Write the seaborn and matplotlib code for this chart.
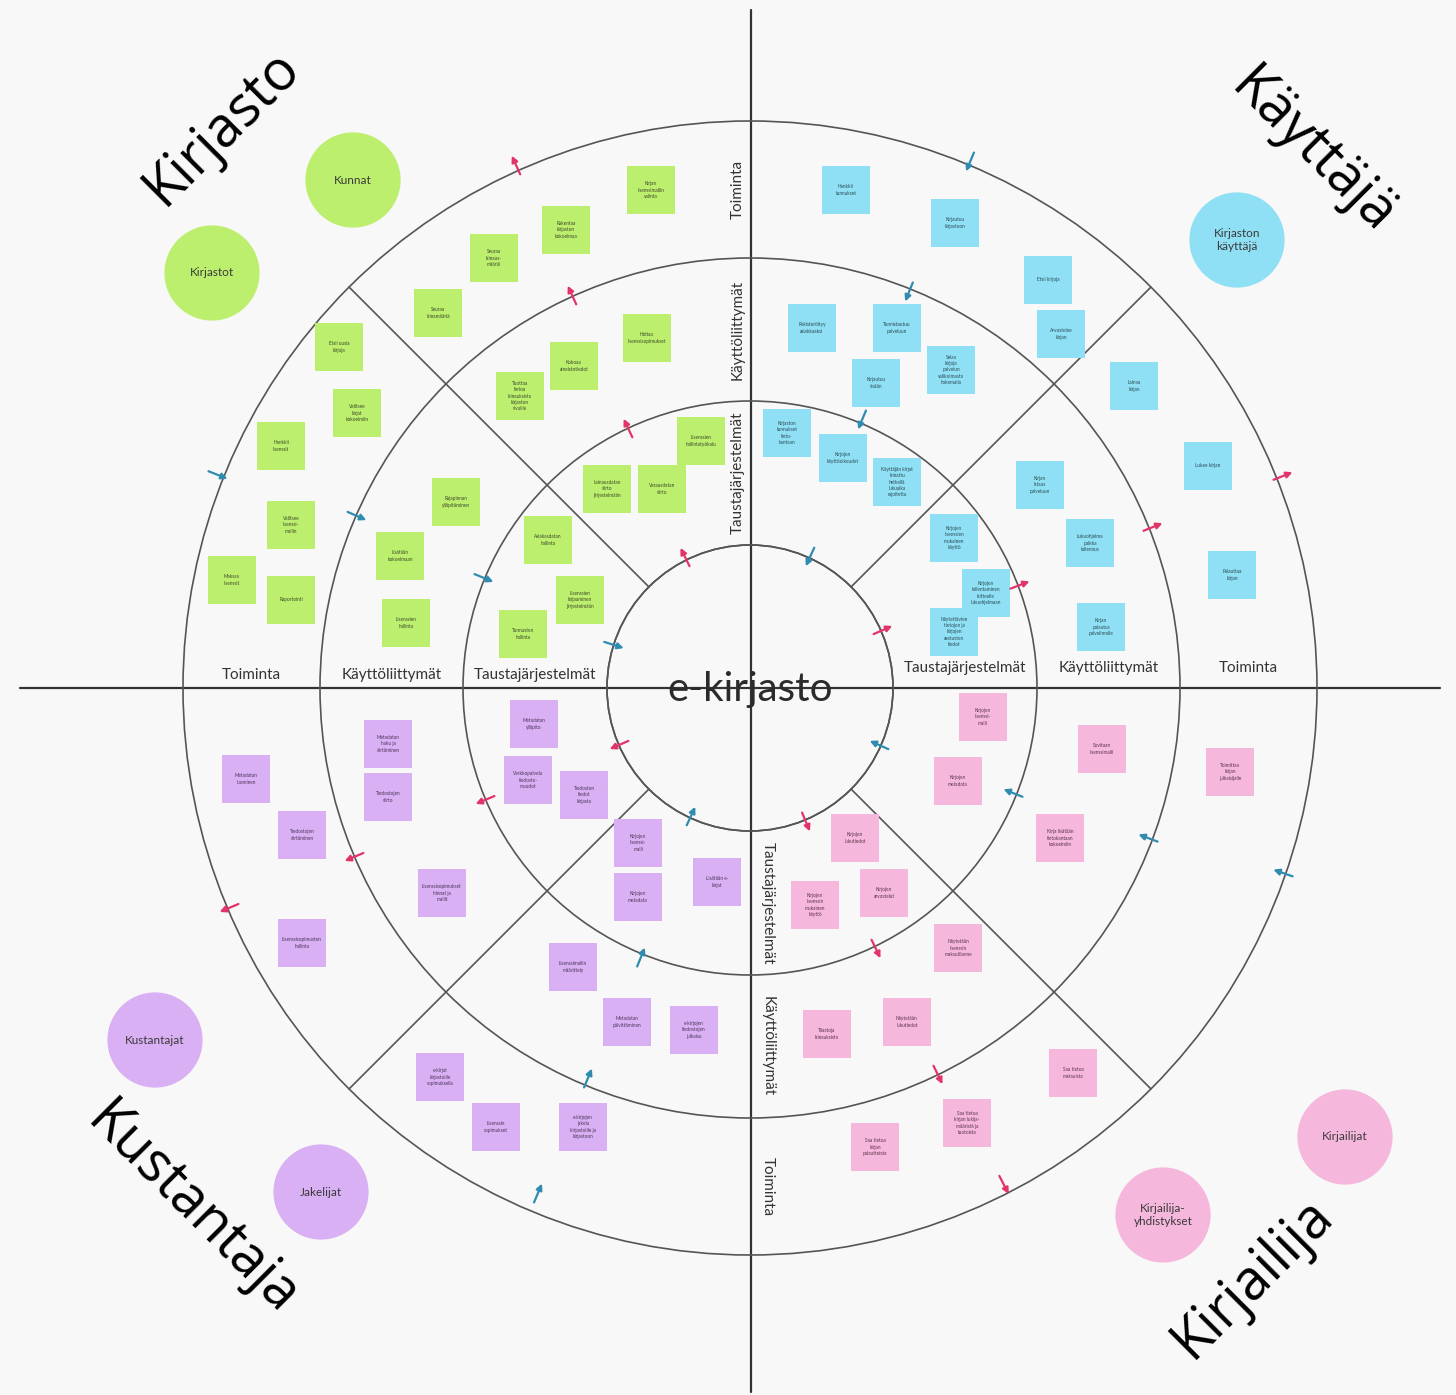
import matplotlib.pyplot as plt
import pandas as pd
import seaborn as sns
import numpy as np
from matplotlib.patches import Circle

sns.set_style('white')
plt.rcParams['font.family'] = ['Lato', 'DejaVu Sans']

# Layout of the wheel (pixel units of the picture)
center_x, center_y = 750, 688
ring_radii = [143, 287, 430, 567]
ring_names = ['Taustajärjestelmät', 'Käyttöliittymät', 'Toiminta']

# Quadrant titles
quad_titles = ['Kirjasto', 'Käyttäjä', 'Kustantaja', 'Kirjailija']
quad_title_x = [222, 1312, 192, 1253]
quad_title_y = [128, 152, 1210, 1278]
quad_title_rot = [45, -45, -45, 45]

# Actor bubbles
actor_labels = ['Kunnat', 'Kirjastot', 'Kirjaston\nkäyttäjä', 'Kustantajat',
                'Jakelijat', 'Kirjailijat', 'Kirjailija-\nyhdistykset']
actor_group = ['Kirjasto', 'Kirjasto', 'Käyttäjä', 'Kustantaja',
               'Kustantaja', 'Kirjailija', 'Kirjailija']
actor_x = [353, 212, 1237, 155, 321, 1345, 1163]
actor_y = [180, 273, 240, 1040, 1192, 1137, 1215]

# Sticky notes, Kirjasto (green)
green_labels = ['Kirjan\nlisenssimallin\nvalinta', 'Rakentaa\nkirjaston\nkokoelmaa',
                'Seuraa\nlainaus-\nmääriä', 'Seuraa\nlainamääriä',
                'Hoitaa\nlisenssisopimukset', 'Kokoaa\naineistotiedot',
                'Tuottaa\ntietoa\nlainauksista\nkirjaston\nsivuille', 'Etsii uusia\nkirjoja',
                'Valitsee\nkirjat\nkokoelmiin', 'Hankkii\nlisenssit',
                'Valitsee\nlisenssi-\nmallin', 'Maksaa\nlisenssit', 'Raportointi',
                'Rajapinnan\nylläpitäminen', 'Lisätään\nkokoelmaan', 'Lisenssien\nhallinta',
                'Lisenssien\nhallintatyökalu', 'Lainausdatan\nsiirto\njärjestelmään',
                'Varausdatan\nsiirto', 'Asiakasdatan\nhallinta',
                'Lisenssien\nkirjaaminen\njärjestelmään', 'Tunnusten\nhallinta']
green_x = [651, 566, 494, 438, 647, 574, 520, 339, 357, 281, 291, 232, 291,
           456, 400, 406, 701, 607, 662, 548, 580, 523]
green_y = [190, 230, 258, 313, 338, 366, 396, 347, 413, 446, 525, 580, 600,
           502, 556, 623, 441, 489, 489, 540, 600, 634]

# Sticky notes, Käyttäjä (blue)
blue_labels = ['Hankkii\ntunnukset', 'Kirjautuu\nkirjastoon', 'Etsii kirjoja',
               'Arvostelee\nkirjan', 'Rekisteröityy\nasiakkaaksi', 'Tunnistautuu\npalveluun',
               'Selaa\nkirjoja\npalvelun\nvalikoimasta\nhakemalla', 'Kirjautuu\nsisään',
               'Lainaa\nkirjan', 'Kirjaston\ntunnukset\ntieto-\nkantaan',
               'Kirjojen\nkäyttöoikeudet', 'Käyttäjän kirjat\nlainattu\nhetkellä\nlukuaika\nrajoitettu',
               'Kirjan\nlataus\npalveluun', 'Lukee kirjan',
               'Kirjojen\nlisenssien\nmukainen\nkäyttö', 'Lukuohjelma\npaikka\ntallennus',
               'Kirjojen\ntallentaminen\nlaitteelle\nlukuohjelmaan',
               'Näytettävien\ntietojen ja\nkirjojen\nasetusten\ntiedot',
               'Kirjan\npalautus\npalvelimelle', 'Palauttaa\nkirjan']
blue_x = [846, 955, 1048, 1061, 812, 897, 951, 876, 1134, 787, 843, 897,
          1040, 1208, 954, 1090, 986, 954, 1101, 1232]
blue_y = [190, 223, 280, 334, 328, 328, 370, 383, 386, 433, 458, 482,
          485, 466, 538, 543, 593, 632, 627, 575]

# Sticky notes, Kustantaja (purple)
purple_labels = ['Metadatan\nylläpito', 'Metadatan\nhaku ja\nsiirtäminen',
                 'Verkkopalvelu\ntiedosto-\nmuodot', 'Tiedoston\ntiedot\nkirjasta',
                 'Tiedostojen\nsiirto', 'Metadatan\nluominen', 'Tiedostojen\nsiirtäminen',
                 'Lisenssisopimukset\nhinnat ja\nmallit', 'Lisenssisopimusten\nhallinta',
                 'Kirjojen\nlisenssi-\nmalli', 'Kirjojen\nmetadata', 'Lisätään e-\nkirjat',
                 'Lisenssimallin\nmäärittely', 'Metadatan\npäivittäminen',
                 'e-kirjojen\ntiedostojen\njulkaisu', 'e-kirjat\nkirjastoille\nsopimuksella',
                 'Lisenssin\nsopimukset', 'e-kirjojen\njakelu\nkirjastoille ja\nkirjastoon']
purple_x = [534, 388, 528, 584, 388, 246, 302, 442, 302, 638, 638, 717,
            573, 627, 694, 440, 496, 583]
purple_y = [724, 744, 780, 795, 797, 779, 835, 893, 943, 843, 897, 882,
            967, 1022, 1030, 1077, 1127, 1127]

# Sticky notes, Kirjailija (pink)
pink_labels = ['Kirjojen\nlisenssi-\nmalli', 'Sovitaan\nlisenssimalli', 'Kirjojen\nmetadata',
               'Toimittaa\nkirjan\njulkaisijalle', 'Kirja lisätään\ntietokantaan\nkokoelmiin',
               'Kirjojen\nlukutiedot', 'Kirjojen\narvostelut',
               'Kirjojen\nlisenssin\nmukainen\nkäyttö', 'Näytetään\nlisenssin\nmaksutilanne',
               'Tilastoja\nlainauksista', 'Näytetään\nlukutiedot', 'Saa tietoa\nmaksuista',
               'Saa tietoa\nkirjan lukija-\nmääristä ja\ntuotoista',
               'Saa tietoa\nkirjan\npalautteista']
pink_x = [983, 1102, 958, 1230, 1060, 855, 884, 815, 958, 827, 907, 1073, 967, 875]
pink_y = [717, 749, 781, 772, 838, 838, 893, 905, 948, 1034, 1022, 1073, 1123, 1147]

# Flow arrows on the rings: red points outward, blue points inward
red_arrow_x = [516, 572, 628, 685, 1283, 1153, 1020, 883, 229, 354, 485, 619, 1004, 938, 876, 806]
red_arrow_y = [165, 295, 428, 557, 476, 527, 585, 630, 908, 857, 800, 745, 1185, 1075, 949, 822]
blue_arrow_x = [218, 357, 484, 614, 970, 909, 862, 810, 538, 588, 641, 691, 1283, 1148, 1013, 879]
blue_arrow_y = [475, 516, 578, 645, 162, 292, 420, 557, 1193, 1078, 957, 816, 873, 838, 793, 745]

palette = {'Kirjasto': '#bdef6e', 'Käyttäjä': '#8fe0f4',
           'Kustantaja': '#d9b0f4', 'Kirjailija': '#f6b7dc'}
text_col = {'Kirjasto': '#3d4a2a', 'Käyttäjä': '#2c4a55',
            'Kustantaja': '#4a3558', 'Kirjailija': '#5a3548'}

notes = pd.concat([
    pd.DataFrame({'label': green_labels, 'x': green_x, 'y': green_y, 'group': 'Kirjasto'}),
    pd.DataFrame({'label': blue_labels, 'x': blue_x, 'y': blue_y, 'group': 'Käyttäjä'}),
    pd.DataFrame({'label': purple_labels, 'x': purple_x, 'y': purple_y, 'group': 'Kustantaja'}),
    pd.DataFrame({'label': pink_labels, 'x': pink_x, 'y': pink_y, 'group': 'Kirjailija'}),
], ignore_index=True)
actors = pd.DataFrame({'label': actor_labels, 'x': actor_x, 'y': actor_y, 'group': actor_group})

fig = plt.figure(figsize=(14.56, 13.95), dpi=100)
fig.patch.set_facecolor('#f8f8f8')
ax = fig.add_axes([0, 0, 1, 1])
ax.set_facecolor('#f8f8f8')
ax.set_xlim(0, 1456)
ax.set_ylim(1395, 0)
ax.set_aspect('equal')
ax.axis('off')

# axes cross
ax.plot([20, 1440], [center_y, center_y], color='#333333', lw=1.6, zorder=2)
ax.plot([751, 751], [10, 1392], color='#333333', lw=1.6, zorder=2)

# rings
for r in ring_radii:
    ax.add_patch(Circle((center_x, center_y), r, fill=False, ec='#555555', lw=1.2, zorder=2))
ax.add_patch(Circle((center_x, center_y), ring_radii[0], fc='#f8f8f8', ec='#555555', lw=1.2, zorder=1))

# diagonal separators
for ang in [45, 135, 225, 315]:
    a = np.deg2rad(ang)
    ax.plot([center_x + ring_radii[0] * np.cos(a), center_x + ring_radii[-1] * np.cos(a)],
            [center_y + ring_radii[0] * np.sin(a), center_y + ring_radii[-1] * np.sin(a)],
            color='#555555', lw=1.2, zorder=2)

# ring labels along the cross
mids = [(ring_radii[i] + ring_radii[i + 1]) / 2 for i in range(3)]
for name, m in zip(ring_names, mids):
    ax.text(center_x - m, center_y - 6, name, ha='center', va='bottom', fontsize=11, color='#333333')
    ax.text(center_x + m, center_y - 13, name, ha='center', va='bottom', fontsize=11, color='#333333')
    ax.text(738, center_y - m, name, ha='center', va='center', rotation=90, fontsize=11, color='#333333')
    ax.text(768, center_y + m, name, ha='center', va='center', rotation=-90, fontsize=11, color='#333333')

ax.text(center_x, center_y + 2, 'e-kirjasto', ha='center', va='center', fontsize=29, color='#2b2b2b', zorder=4)

# actor bubbles
sns.scatterplot(data=actors, x='x', y='y', hue='group', palette=palette, marker='o',
                s=4700, linewidth=0, legend=False, ax=ax, zorder=3)
for _, row in actors.iterrows():
    ax.text(row.x, row.y, row.label, ha='center', va='center', fontsize=8.5,
            color='#3a3a3a', linespacing=1.3, zorder=4)

# sticky notes
sns.scatterplot(data=notes, x='x', y='y', hue='group', palette=palette, marker='s',
                s=1180, linewidth=0, legend=False, ax=ax, zorder=3)
for _, row in notes.iterrows():
    ax.text(row.x, row.y, row.label, ha='center', va='center', fontsize=3.4,
            color=text_col[row.group], linespacing=1.3, zorder=4)

# arrows
def draw_arrows(xs, ys, color, outward):
    for px, py in zip(xs, ys):
        dx, dy = px - center_x, py - center_y
        d = np.hypot(dx, dy)
        ux, uy = dx / d, dy / d
        s = 1 if outward else -1
        ax.annotate('', xy=(px + s * 13 * ux, py + s * 13 * uy),
                    xytext=(px - s * 13 * ux, py - s * 13 * uy),
                    arrowprops=dict(arrowstyle='-|>', color=color, lw=1.6, mutation_scale=9),
                    zorder=5)

draw_arrows(red_arrow_x, red_arrow_y, '#e23468', True)
draw_arrows(blue_arrow_x, blue_arrow_y, '#2f8cb0', False)

# quadrant titles
for t, x, y, rot in zip(quad_titles, quad_title_x, quad_title_y, quad_title_rot):
    ax.text(x, y, t, ha='center', va='center', rotation=rot, rotation_mode='anchor',
            fontsize=40, family=['Open Sans', 'DejaVu Sans'], color='black')

fig.savefig('out.png', dpi=100, facecolor=fig.get_facecolor())
